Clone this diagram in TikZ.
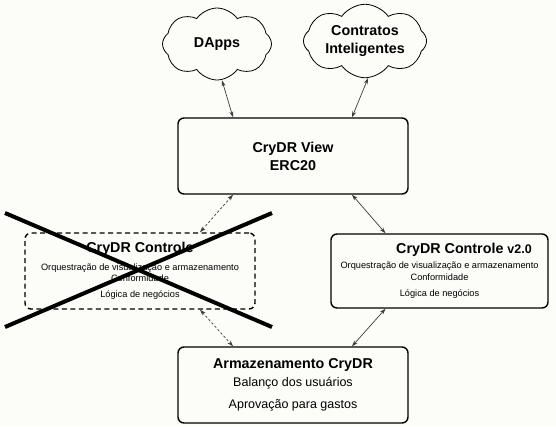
\documentclass[tikz,border=0pt]{standalone}
\usepackage{fontspec}
\setmainfont{Liberation Sans}
\usetikzlibrary{shapes.symbols,arrows.meta,positioning}

\definecolor{papel}{RGB}{252,252,248}
\definecolor{linha}{RGB}{60,60,60}

\newcommand{\titulo}{\fontsize{14.3}{18}\selectfont\bfseries}
\newcommand{\corpo}{\fontsize{9.2}{11}\selectfont}

\tikzstyle{nuvem} = [draw=black, line width=0.8pt, cloud, cloud puffs=8,
    cloud puff arc=110, cloud ignores aspect, align=center, font=\titulo]
\tikzstyle{caixa} = [draw=black, line width=1.4pt, rectangle, rounded corners=6pt,
    minimum width=230pt, minimum height=76pt, inner sep=0pt, align=center]
\tikzstyle{caixatracejada} = [caixa, dash pattern=on 5pt off 3.5pt]
\tikzstyle{seta} = [draw=linha, line width=0.7pt,
    {Stealth[length=6pt,width=4pt]}-{Stealth[length=6pt,width=4pt]}]
\tikzstyle{setatracejada} = [seta, dash pattern=on 2.5pt off 2pt]
\tikzstyle{cruz} = [draw=black, line width=4pt]

\begin{document}
\begin{tikzpicture}[x=1pt,y=-1pt]
\fill[papel] (0,0) rectangle (556,426);
\useasboundingbox (0,0) rectangle (556,426);

% nuvens
\node[nuvem, minimum width=109pt, minimum height=72pt] (dapps) at (217,44) {DApps};
\node[nuvem, minimum width=114pt, minimum height=72pt] (contratos) at (365,41) {Contratos\\Inteligentes};

% camadas
\node[caixa, font=\titulo] (view) at (293,156) {CryDR View\\ERC20};
\node[caixatracejada, font=\corpo] (controle) at (140,271) {%
    {\titulo CryDR Controle}\\[7pt]
    Orquestração de visualização e armazenamento\\
    Conformidade\\[5pt]
    Lógica de negócios};
\node[caixa, font=\corpo, minimum width=217pt, minimum height=74pt] (controlev2) at (439.5,271) {%
    {\titulo\hspace*{49pt}CryDR Controle {\fontsize{12.5}{14}\selectfont v2.0}}\\[4.5pt]
    Orquestração de visualização e armazenamento\\[1pt]
    Conformidade\\[5pt]
    Lógica de negócios};
\node[caixa, font=\fontsize{12.5}{15}\selectfont] (armazenamento) at (293,385) {%
    {\titulo Armazenamento CryDR}\\[2.5pt]
    Balanço dos usuários\\[7pt]
    Aprovação para gastos};

% ligacoes
\draw[seta] ([xshift=-60pt]view.north) -- ([xshift=5pt]dapps.south);
\draw[seta] ([xshift=59pt]view.north) -- ([xshift=3pt]contratos.south);
\draw[setatracejada] ([xshift=60pt]controle.north) -- ([xshift=-60pt]view.south);
\draw[seta] ([xshift=-54pt]controlev2.north) -- ([xshift=59pt]view.south);
\draw[setatracejada] ([xshift=60pt]controle.south) -- ([xshift=-60pt]armazenamento.north);
\draw[seta] ([xshift=-54pt]controlev2.south) -- ([xshift=59pt]armazenamento.north);

% controle antigo riscado
\draw[cruz] (5,213) -- (272,327);
\draw[cruz] (272,213) -- (5,327);
\end{tikzpicture}
\end{document}
